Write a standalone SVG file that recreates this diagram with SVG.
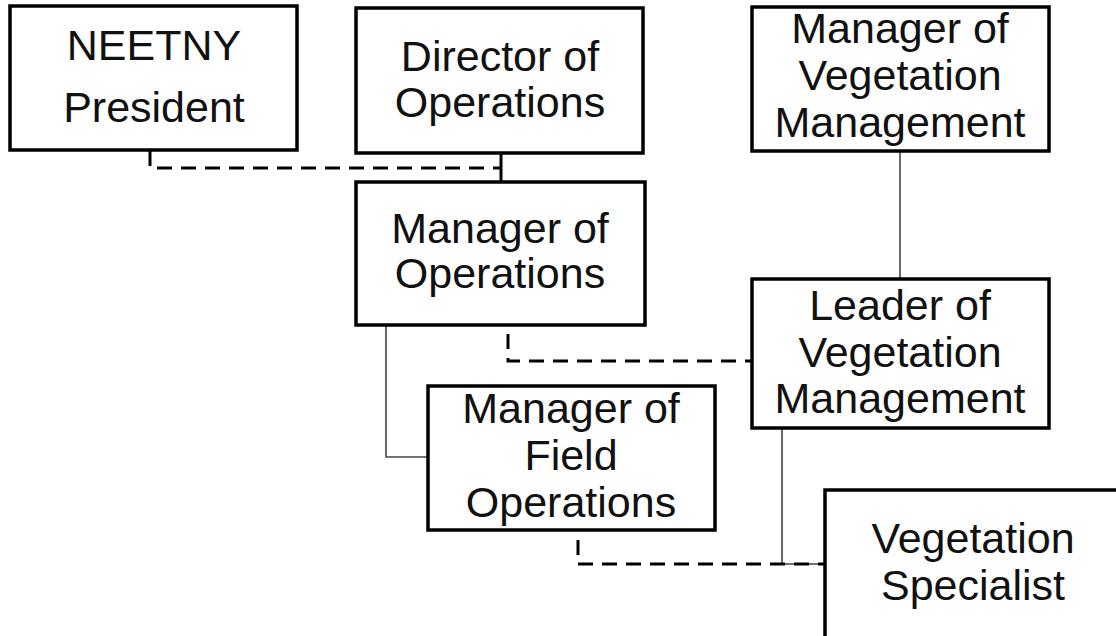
<svg xmlns="http://www.w3.org/2000/svg" width="1116" height="636" viewBox="0 0 1116 636">
<style>
.box{fill:#fff;stroke:#000;stroke-width:3.5}
.t{font-family:"Liberation Sans",Arial,sans-serif;font-size:43px;fill:#111;text-anchor:middle}
.thin{fill:none;stroke:#444;stroke-width:1.6}
.dash{fill:none;stroke:#000;stroke-width:3;stroke-dasharray:15 9}
.solid{fill:none;stroke:#000;stroke-width:3}
</style>
<rect width="1116" height="636" fill="#fff"/>
<g id="connectors">
<path class="dash" d="M150,151 V168 H500"/>
<path class="solid" d="M501,153 V182"/>
<path class="thin" d="M386,325 V457 H428"/>
<path class="dash" d="M508,334 V361 H752"/>
<path class="thin" d="M900,151 V279"/>
<path class="thin" d="M782,428 V564 H825"/>
<path class="dash" d="M578,540 V564 H825"/>
</g>
<g id="neetny-president">
<rect class="box" x="10" y="6" width="287" height="144"/>
<text class="t" x="154" y="60">NEETNY</text>
<text class="t" x="154" y="122">President</text>
</g>
<g id="director-operations">
<rect class="box" x="356" y="8" width="287" height="145"/>
<text class="t" x="500" y="71">Director of</text>
<text class="t" x="500" y="117">Operations</text>
</g>
<g id="manager-vegetation-management">
<rect class="box" x="752" y="7" width="297" height="144"/>
<text class="t" x="900" y="43">Manager of</text>
<text class="t" x="900" y="90">Vegetation</text>
<text class="t" x="900" y="137">Management</text>
</g>
<g id="manager-operations">
<rect class="box" x="356" y="182" width="289" height="143"/>
<text class="t" x="500" y="243">Manager of</text>
<text class="t" x="500" y="288">Operations</text>
</g>
<g id="leader-vegetation-management">
<rect class="box" x="752" y="279" width="297" height="149"/>
<text class="t" x="900" y="320">Leader of</text>
<text class="t" x="900" y="367">Vegetation</text>
<text class="t" x="900" y="413">Management</text>
</g>
<g id="manager-field-operations">
<rect class="box" x="428" y="386" width="287" height="144"/>
<text class="t" x="571" y="423">Manager of</text>
<text class="t" x="571" y="470">Field</text>
<text class="t" x="571" y="517">Operations</text>
</g>
<g id="vegetation-specialist">
<rect class="box" x="825" y="490" width="320" height="200"/>
<text class="t" x="973" y="553">Vegetation</text>
<text class="t" x="973" y="600">Specialist</text>
</g>
</svg>
